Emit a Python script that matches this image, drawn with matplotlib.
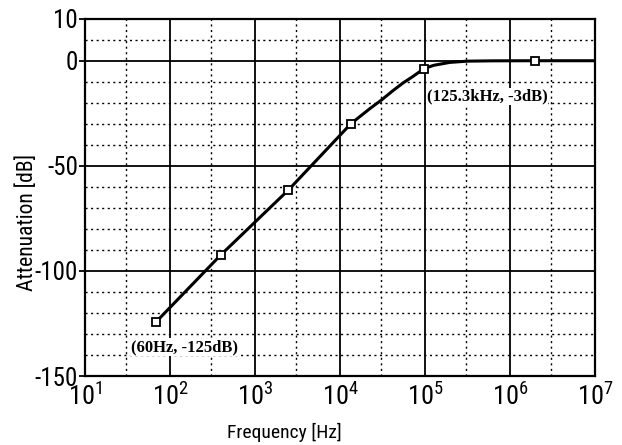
import numpy as np
import matplotlib
matplotlib.use('Agg')
import matplotlib.pyplot as plt
from matplotlib import rcParams, font_manager
from matplotlib.ticker import FixedLocator, NullFormatter

# 曲線の値
freq_curve = [68, 393, 2455, 13400, 17180, 22900, 30900, 41700, 55000, 71900,
              96800, 125900, 195000, 316000, 631000, 1940000, 1e7]
atten_curve = [-124.4, -92.5, -61.6, -30.0, -26.5, -22.5, -18.6, -14.3, -10.6, -7.5,
               -3.8, -2.2, -0.8, -0.2, -0.05, 0.0, 0.0]

# マーカーの位置
freq_marks = [68, 393, 2455, 13400, 96800, 1940000]
atten_marks = [-124.4, -92.5, -61.6, -30.0, -3.8, 0.0]

x_ticks = [1e1, 1e2, 1e3, 1e4, 1e5, 1e6, 1e7]
x_ticklabels = ['$10^{1}$', '$10^{2}$', '$10^{3}$', '$10^{4}$', '$10^{5}$', '$10^{6}$', '$10^{7}$']
y_ticks = [-150, -100, -50, 0, 20]
y_ticklabels = ['-150', '-100', '-50', '0', '10']

notes = ['(60Hz, -125dB)', '(125.3kHz, -3dB)']
note_pos = [(34.6, -136.2), (104000, -17.0)]

# 細めのフォントを探す
installed = set(f.name for f in font_manager.fontManager.ttflist)
narrow = 'Liberation Sans'
for cand in ['Liberation Sans Narrow', 'Arial Narrow', 'Roboto Condensed', 'PT Sans Narrow',
             'Archivo Narrow', 'Fira Sans Condensed', 'IBM Plex Sans Condensed',
             'Encode Sans Condensed', 'Open Sans Condensed']:
    if cand in installed:
        narrow = cand
        break
serif = 'Liberation Serif'

rcParams['font.family'] = [narrow, 'DejaVu Sans']
rcParams['mathtext.fontset'] = 'custom'
rcParams['mathtext.rm'] = narrow
rcParams['mathtext.it'] = narrow

fig = plt.figure(figsize=(6.22, 4.45), dpi=100)
ax = fig.add_axes([0.1367, 0.155, 0.82, 0.803])

ax.set_xscale('log')
ax.set_xlim(1e1, 1e7)
ax.set_ylim(-150, 20)

# グリッド（太線と点線）
for x in x_ticks[1:-1]:
    ax.axvline(x, color='black', lw=1.3, zorder=1)
for d in range(1, 7):
    ax.axvline(3 * 10 ** d, color='black', lw=1.0, ls=(0, (1.5, 2.5)), zorder=1)
for y in [0, -50, -100]:
    ax.axhline(y, color='black', lw=1.3, zorder=1)
for y in range(-140, 20, 10):
    if y % 50 != 0:
        ax.axhline(y, color='black', lw=1.0, ls=(0, (1.5, 2.5)), zorder=1)

ax.plot(freq_curve, atten_curve, color='black', lw=2.2, zorder=3,
        solid_joinstyle='round', solid_capstyle='round')
ax.plot(freq_marks, atten_marks, ls='none', marker='s', ms=5.5, mfc='white',
        mec='black', mew=1.3, zorder=4)

for txt, (xp, yp) in zip(notes, note_pos):
    ax.text(xp, yp, txt, family=serif, fontweight='bold',
            fontsize=12, ha='left', va='center', zorder=5,
            bbox=dict(facecolor='white', edgecolor='none', pad=0.5))

ax.xaxis.set_major_locator(FixedLocator(x_ticks))
ax.set_xticklabels(x_ticklabels, fontsize=19)
ax.xaxis.set_minor_formatter(NullFormatter())
ax.tick_params(axis='x', which='both', length=0, pad=5)
ax.set_yticks(y_ticks)
ax.set_yticklabels(y_ticklabels, fontsize=18)
ax.tick_params(axis='y', length=4, width=1.3, direction='out', pad=1)

for s in ax.spines.values():
    s.set_linewidth(1.6)

ax.set_xlabel('Frequency [Hz]', fontsize=14)
ax.xaxis.set_label_coords(0.39, -0.13)
ax.set_ylabel('Attenuation [dB]', fontsize=15.5)
ax.yaxis.set_label_coords(-0.092, 0.43)

plt.savefig('out.png', dpi=100)
